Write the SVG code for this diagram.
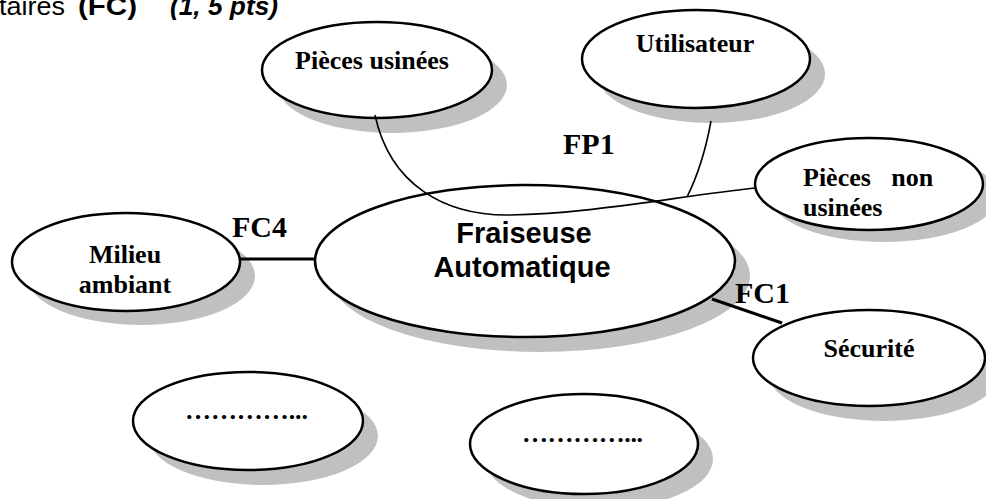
<svg xmlns="http://www.w3.org/2000/svg" width="986" height="499" viewBox="0 0 986 499">
<style>
.sh{fill:#c0c0c0;stroke:none}
.el{fill:#fff;stroke:#000;stroke-width:2.5}
.lb{font-family:"Liberation Serif","Times New Roman",serif;font-weight:bold;font-size:26px;fill:#000}
.fc{font-family:"Liberation Serif","Times New Roman",serif;font-weight:bold;font-size:30px;fill:#000}
.ar{font-family:"Liberation Sans",Arial,sans-serif;font-weight:bold;font-size:29px;fill:#000}
.thin{fill:none;stroke:#000;stroke-width:1.6}
.thick{fill:none;stroke:#000;stroke-width:3.2}
</style>
<rect width="986" height="499" fill="#fff"/>
<g id="title">
<text x="-1" y="15" font-family="Liberation Sans, Arial, sans-serif" font-size="26" textLength="66" lengthAdjust="spacingAndGlyphs">taires</text>
<text x="78" y="15" font-family="Liberation Sans, Arial, sans-serif" font-size="26" font-weight="bold" textLength="59" lengthAdjust="spacingAndGlyphs">(FC)</text>
<text x="170" y="15" font-family="Liberation Sans, Arial, sans-serif" font-size="26" font-weight="bold" font-style="italic" textLength="108" lengthAdjust="spacingAndGlyphs">(1, 5 pts)</text>
</g>
<g id="pieces-usinees">
<ellipse class="sh" cx="392" cy="85" rx="115" ry="48"/>
<ellipse class="el" cx="377" cy="70" rx="115" ry="48"/>
<text class="lb" x="372" y="69" text-anchor="middle">Pièces usinées</text>
</g>
<g id="utilisateur">
<ellipse class="sh" cx="711" cy="74" rx="114" ry="49"/>
<ellipse class="el" cx="696" cy="59" rx="114" ry="49"/>
<text class="lb" x="695" y="52" text-anchor="middle">Utilisateur</text>
</g>
<g id="pieces-non-usinees">
<ellipse class="sh" cx="884" cy="196" rx="114" ry="46"/>
<ellipse class="el" cx="869" cy="184" rx="114" ry="46"/>
<text class="lb" x="803" y="186" word-spacing="14">Pièces non</text>
<text class="lb" x="803" y="216">usinées</text>
</g>
<g id="milieu-ambiant">
<ellipse class="sh" cx="141" cy="276" rx="114" ry="49"/>
<ellipse class="el" cx="126" cy="262" rx="114" ry="49"/>
<text class="lb" x="125" y="263" text-anchor="middle">Milieu</text>
<text class="lb" x="125" y="293" text-anchor="middle">ambiant</text>
</g>
<g id="fraiseuse">
<ellipse class="sh" cx="540" cy="276" rx="210" ry="76"/>
<ellipse class="el" cx="525" cy="261" rx="210" ry="76"/>
<text class="ar" x="524" y="243" text-anchor="middle">Fraiseuse</text>
<text class="ar" x="522" y="277" text-anchor="middle">Automatique</text>
</g>
<g id="securite">
<ellipse class="sh" cx="884" cy="373" rx="116" ry="48"/>
<ellipse class="el" cx="869" cy="358" rx="116" ry="48"/>
<text class="lb" x="869" y="357" text-anchor="middle">Sécurité</text>
</g>
<g id="vide-1">
<ellipse class="sh" cx="263" cy="436" rx="115" ry="49"/>
<ellipse class="el" cx="248" cy="421" rx="115" ry="49"/>
<text class="lb" x="185" y="419" textLength="123">…………...</text>
</g>
<g id="vide-2">
<ellipse class="sh" cx="599" cy="459" rx="114" ry="50"/>
<ellipse class="el" cx="584" cy="444" rx="114" ry="50"/>
<text class="lb" x="522" y="442" textLength="121">…………...</text>
</g>
<g id="connectors">
<path class="thin" d="M375,115 C390,185 445,216 510,215 C590,214 680,196 755,188"/>
<path class="thin" d="M711,121 Q703,165 687,197"/>
<line class="thick" x1="240" y1="259" x2="315" y2="259"/>
<line class="thick" x1="712" y1="299" x2="782" y2="323"/>
<text class="fc" x="563" y="154">FP1</text>
<text class="fc" x="232" y="237">FC4</text>
<text class="fc" x="735" y="303">FC1</text>
</g>
</svg>
